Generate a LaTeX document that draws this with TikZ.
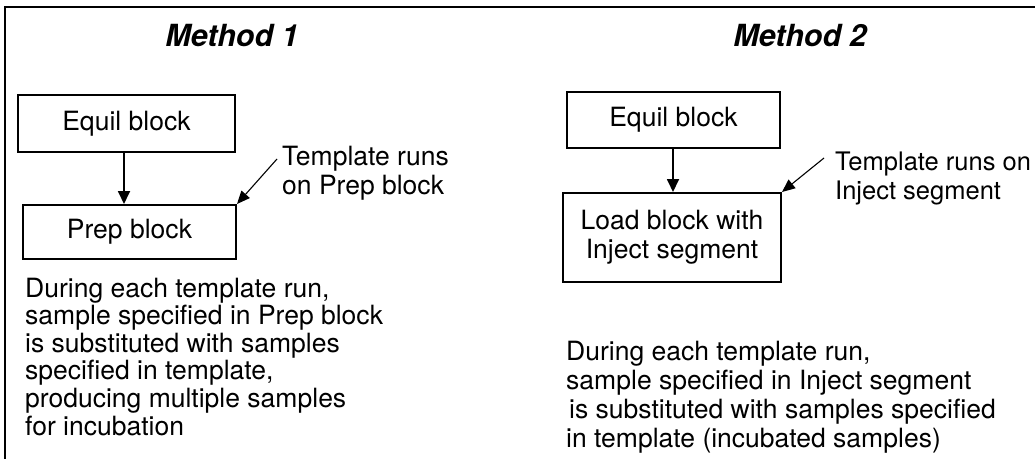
\documentclass[tikz,border=0pt]{standalone}
\usepackage{fontspec}
\setmainfont{TeX Gyre Heros}
\usetikzlibrary{arrows.meta,calc,positioning}
\tikzset{
  bodytext/.style={font=\fontsize{26.5}{29}\selectfont, text=black},
  methodtitle/.style={font=\fontsize{30.5}{34}\selectfont\bfseries\itshape, text=black},
  blockbox/.style={draw=black, line width=2pt, fill=white,
    font=\fontsize{26.5}{29}\selectfont, align=center, inner sep=0pt},
  flowarrow/.style={-{Triangle[length=13pt,width=12pt]}, draw=black, line width=1.8pt},
  callarrow/.style={-{Triangle[length=13pt,width=11pt]}, draw=black, line width=1.1pt}
}

\begin{document}
\begin{tikzpicture}[x=1pt,y=-1pt]
  \useasboundingbox (0,0) rectangle (1035,458);
  % frame
  \draw[line width=2pt] (5,460) -- (5,7) -- (1037,7);

  % Method 1
  \node[methodtitle, anchor=base] (titleA) at (232,46) {Method 1};
  \node[blockbox, minimum width=217pt, minimum height=57pt]
    (equilA) at (126.5,123.5) {Equil block};
  \node[blockbox, minimum width=213pt, minimum height=54pt]
    (prepA) at (129.5,232) {Prep block};
  \draw[flowarrow] (equilA.south -| 124,0) -- (prepA.north -| 124,0);
  \node[bodytext, anchor=north west, inner sep=0pt, align=left]
    (callA) at (282,145.5) {Template runs\\on Prep block};
  \coordinate (tipA) at (277,159);
  \draw[callarrow] (tipA) -- (prepA.north east);
  \node[bodytext, anchor=north west, inner sep=0pt, align=left,
    font=\fontsize{26.5}{27.6}\selectfont]
    (noteA) at (25,277.5) {During each template run,\\
      sample specified in Prep block\\
      is substituted with samples\\
      specified in template,\\
      producing multiple samples\\
      for incubation};

  % Method 2
  \node[methodtitle, anchor=base] (titleB) at (800,46) {Method 2};
  \node[blockbox, minimum width=213pt, minimum height=56pt]
    (equilB) at (673.5,120) {Equil block};
  \node[blockbox, minimum width=218pt, minimum height=89pt]
    (loadB) at (672,237.5) {Load block with\\Inject segment};
  \draw[flowarrow] (equilB.south -| 673,0) -- (loadB.north -| 673,0);
  \node[bodytext, anchor=north west, inner sep=0pt, align=left,
    font=\fontsize{25.5}{29}\selectfont]
    (callB) at (835,152) {Template runs on\\Inject segment};
  \coordinate (tipB) at (824,158);
  \draw[callarrow] (tipB) -- (loadB.north east);
  \node[bodytext, anchor=north west, inner sep=0pt, align=left]
    (noteB) at (566,340.5) {During each template run,\\
      sample specified in Inject segment\\
      \hspace{3pt}is substituted with samples specified\\
      in template (incubated samples)};
\end{tikzpicture}
\end{document}
